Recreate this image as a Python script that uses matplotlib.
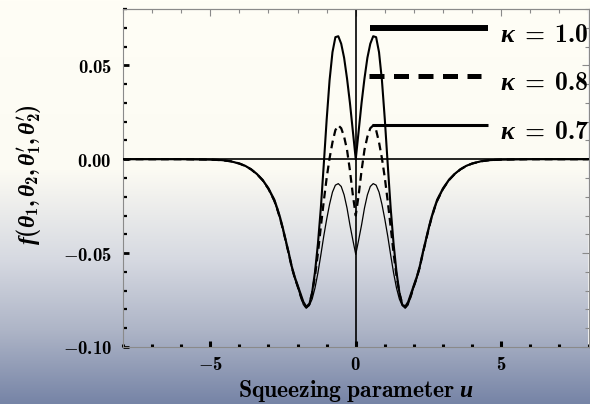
import numpy as np
import matplotlib
matplotlib.use("Agg")
import matplotlib.pyplot as plt
from matplotlib.ticker import MultipleLocator, FuncFormatter

plt.rcParams['mathtext.fontset'] = 'custom'
plt.rcParams['mathtext.rm'] = 'cmb10'
plt.rcParams['mathtext.bf'] = 'cmb10'
plt.rcParams['mathtext.it'] = 'Liberation Serif:bold:italic'

# values for u >= 0 (curves are symmetric in u)
u_half = [0, 0.1, 0.2, 0.3, 0.4, 0.5, 0.6, 0.7, 0.8, 0.9, 1.0, 1.1, 1.2, 1.3, 1.4,
          1.5, 1.6, 1.7, 1.8, 1.9, 2.0, 2.1, 2.2, 2.3, 2.4, 2.5, 2.6, 2.7, 2.8,
          3.0, 3.2, 3.4, 3.6, 3.8, 4.0, 4.3, 4.6, 5.0, 6.0, 8.0]

f_k10 = [0.0, 0.015, 0.030, 0.043, 0.054, 0.0615, 0.0655, 0.065, 0.057, 0.042,
         0.021, -0.003, -0.026, -0.045, -0.060, -0.071, -0.0775, -0.0785, -0.076,
         -0.0715, -0.067, -0.0625, -0.057, -0.050, -0.0435, -0.037, -0.031, -0.026,
         -0.0215, -0.0155, -0.011, -0.0078, -0.0053, -0.0035, -0.0023, -0.0011,
         -0.0005, -0.0002, 0.0, 0.0]

f_k08 = [-0.030, -0.019, -0.006, 0.005, 0.012, 0.0165, 0.018, 0.0155, 0.009, 0.0005,
         -0.010, -0.0225, -0.036, -0.050, -0.062, -0.0715, -0.077, -0.079, -0.077,
         -0.0725, -0.0675, -0.063, -0.0575, -0.0505, -0.044, -0.0375, -0.0315,
         -0.0265, -0.022, -0.0158, -0.0112, -0.0079, -0.0054, -0.0036, -0.0023,
         -0.0011, -0.0005, -0.0002, 0.0, 0.0]

f_k07 = [-0.0507, -0.043, -0.035, -0.026, -0.019, -0.0145, -0.013, -0.0138, -0.0175,
         -0.024, -0.032, -0.041, -0.051, -0.0605, -0.0685, -0.0745, -0.078, -0.0792,
         -0.0775, -0.073, -0.068, -0.0635, -0.058, -0.051, -0.0445, -0.038, -0.032,
         -0.027, -0.0225, -0.016, -0.0114, -0.008, -0.0055, -0.0036, -0.0024,
         -0.0011, -0.0005, -0.0002, 0.0, 0.0]

kappa_labels = ["1.0", "0.8", "0.7"]


def mirror(vals):
    vals = np.asarray(vals)
    return np.concatenate([vals[:0:-1], vals])


u = np.concatenate([-np.asarray(u_half)[:0:-1], u_half])

fig = plt.figure(figsize=(5.9, 4.04), dpi=100)

# background gradient: cream at top, blue-grey at bottom
ys = np.array([0, 170, 260, 330, 404]) / 404
cols = np.array([[255, 254, 246], [252, 251, 243], [214, 217, 225],
                 [174, 181, 199], [118, 132, 166]]) / 255
yy = np.linspace(0, 1, 404)
grad = np.stack([np.interp(yy, ys, cols[:, i]) for i in range(3)], axis=1)
bg = fig.add_axes([0, 0, 1, 1], zorder=0)
bg.imshow(grad[:, None, :], aspect='auto', extent=[0, 1, 0, 1])
bg.axis('off')

ax = fig.add_axes([123 / 590, 1 - 347 / 404, 465.5 / 590, 338 / 404], zorder=1)
ax.patch.set_alpha(0)

ax.axhline(0, color='black', lw=1.2, zorder=1)
ax.axvline(0, color='black', lw=1.2, zorder=1)

ax.plot(u, mirror(f_k10), color='black', lw=1.5, zorder=3)
ax.plot(u, mirror(f_k08), color='black', lw=1.6, ls=(0, (3.5, 2.2)), zorder=3)
ax.plot(u, mirror(f_k07), color='black', lw=0.9, zorder=3)

ax.set_xlim(-8, 8)
ax.set_ylim(-0.1, 0.08)

ax.xaxis.set_major_locator(MultipleLocator(5))
ax.xaxis.set_minor_locator(MultipleLocator(1))
ax.yaxis.set_major_locator(MultipleLocator(0.05))
ax.yaxis.set_minor_locator(MultipleLocator(0.01))
ax.xaxis.set_major_formatter(FuncFormatter(lambda v, p: r"$%d$" % round(v)))
ax.yaxis.set_major_formatter(FuncFormatter(lambda v, p: r"$%.2f$" % v))

ax.tick_params(axis='x', which='major', direction='in', length=4.5, width=2.2,
               labelsize=13.5, pad=6)
ax.tick_params(axis='x', which='minor', direction='in', length=2.4, width=2.2)
ax.tick_params(axis='y', which='major', direction='in', length=4.5, width=2,
               labelsize=13.5, pad=8)
ax.tick_params(axis='y', which='minor', direction='in', length=3, width=1.6)

for s in ax.spines.values():
    s.set_color('#8a8a8a')
    s.set_linewidth(0.8)

top = ax.secondary_xaxis('top')
top.xaxis.set_major_locator(MultipleLocator(5))
top.xaxis.set_minor_locator(MultipleLocator(1))
top.tick_params(which='both', direction='in', color='#8a8a8a', width=0.8,
                labeltop=False)
top.tick_params(which='major', length=5)
top.tick_params(which='minor', length=3)
top.spines['top'].set_color('#8a8a8a')
top.spines['top'].set_linewidth(0.8)
right = ax.secondary_yaxis('right')
right.yaxis.set_major_locator(MultipleLocator(0.05))
right.yaxis.set_minor_locator(MultipleLocator(0.01))
right.tick_params(which='both', direction='in', color='#8a8a8a', width=0.8,
                  labelright=False)
right.tick_params(which='major', length=5)
right.tick_params(which='minor', length=3)

ax.set_xlabel(r"$\mathrm{Squeezing\ parameter}\ u$", fontsize=17, labelpad=3)
ax.set_ylabel(r"$f(\theta_1,\theta_2,\theta_1',\theta_2')$", fontsize=17)
ax.yaxis.set_label_coords(-0.172, 0.51)

# legend drawn at the top right
leg_y = [0.944, 0.802, 0.657]
ax.plot([0.531, 0.784], [leg_y[0]] * 2, transform=ax.transAxes, color='black',
        lw=4.3, solid_capstyle='butt', clip_on=False)
ax.plot([0.529, 0.769], [leg_y[1]] * 2, transform=ax.transAxes, color='black',
        lw=3.6, ls=(0, (3, 1.9)), dash_capstyle='butt', clip_on=False)
ax.plot([0.535, 0.784], [leg_y[2]] * 2, transform=ax.transAxes, color='black',
        lw=2.2, solid_capstyle='butt', clip_on=False)
for y, lab in zip(leg_y, kappa_labels):
    ax.text(0.81, y - 0.043, r"$\kappa\ =\ %s$" % lab, transform=ax.transAxes,
            fontsize=18.5, ha='left', va='baseline', clip_on=False)

fig.savefig("out.png", dpi=100)
